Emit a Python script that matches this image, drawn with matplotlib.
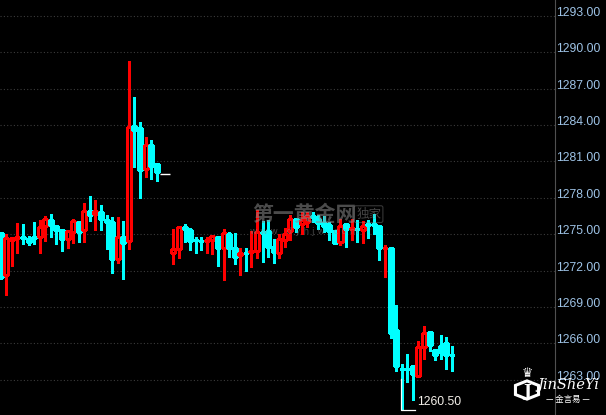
import matplotlib
matplotlib.use('Agg')
import matplotlib.pyplot as plt
from matplotlib.patches import Rectangle, RegularPolygon
from matplotlib.transforms import ScaledTranslation

# ---------------- data ----------------
slots = list(range(0, 29)) + list(range(31, 82))
opens = [1275.1, 1271.6, 1274.55, 1274.72, 1274.76, 1274.58, 1274.78, 1274.81, 1275.64, 1276.19,
         1275.69, 1275.36, 1274.58, 1275.22, 1276.03, 1275.31, 1276.92, 1276.64, 1276.86, 1276.19,
         1276.03, 1272.97, 1274.75, 1274.42, 1283.91, 1283.75, 1280.33, 1282.31, 1280.77,
         1273.44, 1273.82, 1275.63, 1275.36, 1274.55, 1274.45, 1274.48, 1274.51, 1274.78, 1273.85,
         1275.03, 1273.9, 1273.27, 1273.47, 1273.5, 1273.58, 1275.16, 1275.25, 1273.96, 1273.49,
         1274.56, 1275.25, 1276.29, 1275.88, 1276.01, 1276.47, 1276.22, 1275.95, 1275.73, 1275.24,
         1274.38, 1275.81, 1275.4, 1275.43, 1275.38, 1275.8, 1275.8, 1275.65, 1273.84, 1273.9,
         1267.15, 1263.92, 1263.92, 1264.12, 1263.35, 1265.72, 1266.98, 1265.5, 1265.83, 1266.05,
         1265.08]
highs = [1275.2, 1275.0, 1274.8, 1275.95, 1275.8, 1274.86, 1275.97, 1276.19, 1276.53, 1276.69,
         1275.78, 1275.47, 1275.28, 1276.28, 1276.03, 1277.53, 1278.11, 1277.78, 1277.44, 1276.56,
         1276.44, 1276.44, 1276.11, 1289.3, 1286.31, 1284.27, 1283.0, 1282.75, 1280.85,
         1275.44, 1275.68, 1275.85, 1275.52, 1274.73, 1274.78, 1274.75, 1274.9, 1274.78, 1275.44,
         1275.19, 1275.11, 1273.88, 1273.9, 1275.27, 1277.0, 1276.12, 1276.15, 1274.64, 1275.05,
         1275.52, 1276.56, 1276.34, 1276.84, 1276.84, 1276.86, 1276.59, 1276.54, 1276.0, 1275.24,
         1276.27, 1275.81, 1276.27, 1276.14, 1276.05, 1276.14, 1276.68, 1275.65, 1274.11, 1273.9,
         1269.13, 1264.34, 1265.17, 1264.2, 1266.18, 1267.48, 1266.98, 1265.5, 1266.74, 1266.54,
         1265.83]
lows = [1271.3, 1270.0, 1272.4, 1273.48, 1274.2, 1274.1, 1274.2, 1273.47, 1274.47, 1274.81,
        1274.19, 1273.64, 1273.89, 1274.31, 1274.39, 1274.39, 1276.06, 1275.31, 1275.31, 1273.81,
        1271.81, 1272.64, 1271.31, 1273.8, 1280.5, 1278.0, 1279.72, 1279.53, 1279.39,
        1272.53, 1273.03, 1274.32, 1273.66, 1273.44, 1273.71, 1273.49, 1273.33, 1272.42, 1271.25,
        1273.16, 1272.51, 1271.6, 1271.93, 1272.34, 1273.0, 1272.75, 1273.14, 1272.59, 1273.0,
        1273.96, 1274.5, 1275.19, 1275.05, 1275.6, 1276.04, 1275.46, 1275.19, 1274.51, 1274.16,
        1274.11, 1273.97, 1274.51, 1274.38, 1274.24, 1274.65, 1275.05, 1272.89, 1271.46, 1266.46,
        1263.7, 1260.5, 1262.8, 1261.36, 1263.29, 1264.72, 1265.36, 1264.67, 1264.72, 1263.93,
        1263.7]
closes = [1271.5, 1274.65, 1274.72, 1274.76, 1274.72, 1274.36, 1274.72, 1275.56, 1276.25, 1275.72,
          1275.36, 1274.61, 1275.28, 1276.08, 1275.19, 1276.92, 1276.56, 1276.92, 1276.28, 1275.97,
          1272.97, 1274.75, 1274.31, 1283.8, 1283.61, 1280.3, 1282.31, 1280.58, 1280.14,
          1273.77, 1275.58, 1275.47, 1274.48, 1274.52, 1274.42, 1274.52, 1274.86, 1273.9, 1275.11,
          1273.9, 1273.16, 1273.47, 1273.45, 1273.63, 1275.16, 1275.13, 1273.96, 1273.55, 1274.64,
          1275.05, 1276.29, 1275.6, 1276.15, 1276.48, 1276.43, 1275.95, 1275.68, 1275.27, 1274.24,
          1275.65, 1275.46, 1275.51, 1275.4, 1275.68, 1275.76, 1275.76, 1273.89, 1273.88, 1266.87,
          1264.12, 1263.9, 1263.9, 1263.51, 1265.72, 1266.87, 1265.91, 1265.08, 1265.28, 1265.08,
          1265.06]
y_ticks = [1263, 1266, 1269, 1272, 1275, 1278, 1281, 1284, 1287, 1290, 1293]
tick_labels = ["%.2f" % v for v in y_ticks]
low_slot = 72
low_value = 1260.50
low_text = "1260.50"
marker_price = 1279.94
marker_span = (28.6, 30.4)

RED = '#ff0000'
CYAN = '#00ffff'

# ---------------- figure ----------------
fig = plt.figure(figsize=(6.06, 4.15), dpi=100, facecolor='black')
ax = fig.add_axes([0, 0, 555 / 606, 1])
ax.set_facecolor('black')
ax.set_xlim(-0.13, 99.51)
ax.set_ylim(1260.11, 1294.29)

w = 0.72
for x, o, h, l, c in zip(slots, opens, highs, lows, closes):
    up = c > o
    col = RED if up else CYAN
    top, bot = max(o, c), min(o, c)
    if up:
        ax.vlines(x, top, h, color=col, lw=0.8, antialiased=False, zorder=3)
        ax.vlines(x, l, bot, color=col, lw=0.8, antialiased=False, zorder=3)
        ax.add_patch(Rectangle((x - w / 2, bot), w, top - bot, facecolor='black',
                               edgecolor=col, lw=0.8, antialiased=False, zorder=4))
    else:
        ax.vlines(x, l, h, color=col, lw=0.8, antialiased=False, zorder=3)
        ax.add_patch(Rectangle((x - w / 2, bot), w, top - bot, facecolor=col,
                               edgecolor=col, lw=0.8, antialiased=False, zorder=4))

# white marker line in the gap
ax.hlines(marker_price, marker_span[0], marker_span[1], color='white', lw=1.0, zorder=5)

# low marker
ax.plot([low_slot - 0.15, low_slot - 0.15, 74.4], [1263.05, low_value, low_value],
        color='white', lw=0.9, zorder=6, solid_joinstyle='miter')
ax.text(74.75, 1261.2, low_text, color='#f4f0ea', fontsize=8.8,
        family='Liberation Sans', va='center', ha='left', zorder=7)

# axis / grid
ax.set_yticks(y_ticks)
ax.set_yticklabels(tick_labels)
ax.yaxis.tick_right()
ax.tick_params(axis='y', length=0, pad=1, labelcolor='#9ec3e6', labelsize=8.8)
for lab in ax.get_yticklabels():
    lab.set_family('Liberation Sans')
    lab.set_transform(lab.get_transform() + ScaledTranslation(0, 4.5 / 100, fig.dpi_scale_trans))
ax.set_xticks([])
ax.grid(axis='y', color='#3c3c3c', linestyle=(0, (1, 2)), lw=0.8)
for s in ['top', 'left', 'bottom']:
    ax.spines[s].set_visible(False)
ax.spines['right'].set_color('#505050')
ax.spines['right'].set_linewidth(0.8)

# watermark
cjk = ['Noto Sans CJK SC', 'DejaVu Sans']
ax.text(0.548, 0.482, "第一黄金网", transform=fig.transFigure if False else ax.transAxes,
        fontsize=15, family=cjk, fontweight='bold', color='#8a8a8a', alpha=0.55,
        ha='center', va='center', zorder=8)
ax.text(0.664, 0.484, "独家", transform=ax.transAxes, fontsize=9, family=cjk,
        color='#8a8a8a', alpha=0.5, ha='center', va='center', zorder=8,
        bbox=dict(boxstyle='round,pad=0.15', fc='none', ec='#8a8a8a', alpha=0.4, lw=0.8))
ax.text(0.548, 0.443, "w w w . d y h j w . c o m", transform=ax.transAxes, fontsize=6.5,
        family='DejaVu Sans', color='#8a8a8a', alpha=0.5, ha='center', va='center', zorder=8)

# logo bottom right
fig.patches.append(RegularPolygon((527 / 606, 1 - 390 / 415), numVertices=6, radius=0.022,
                                  orientation=0, transform=fig.transFigure,
                                  facecolor='none', edgecolor='white', lw=2.2, zorder=10))
fig.text(527 / 606, 1 - 391 / 415, "J", color='white', fontsize=12, fontweight='bold',
         family='DejaVu Serif', ha='center', va='center', zorder=11)
fig.text(527 / 606, 1 - 373 / 415, "♛", color='white', fontsize=9,
         family='DejaVu Sans', ha='center', va='center', zorder=11)
fig.text(568 / 606, 1 - 385 / 415, "JinSheYi", color='white', fontsize=10.5,
         family='DejaVu Serif', style='italic', ha='center', va='center', zorder=11)
fig.text(568 / 606, 1 - 399 / 415, "— 金言易 —", color='white', fontsize=6,
         family=cjk, ha='center', va='center', zorder=11)

fig.savefig('out.png', dpi=100, facecolor='black')
